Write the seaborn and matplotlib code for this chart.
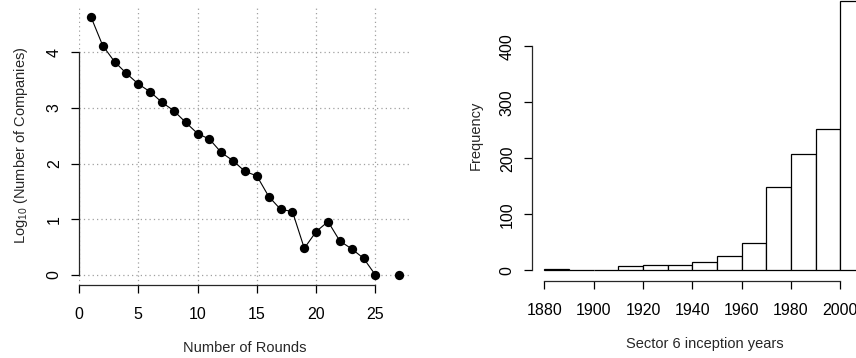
import numpy as np
import pandas as pd
import matplotlib
matplotlib.use("Agg")
import matplotlib.pyplot as plt
import seaborn as sns

sns.set_style("ticks")
plt.rcParams['font.family'] = ['Liberation Sans', 'DejaVu Sans']
plt.rcParams['mathtext.fontset'] = 'custom'
plt.rcParams['mathtext.rm'] = 'Liberation Sans'
plt.rcParams['mathtext.it'] = 'Liberation Sans:italic'
plt.rcParams['font.size'] = 10.5

# Left panel: log10 of number of companies by number of funding rounds
rounds = [1, 2, 3, 4, 5, 6, 7, 8, 9, 10, 11, 12, 13, 14, 15, 16, 17, 18, 19, 20,
          21, 22, 23, 24, 25, 27]
log_companies = [4.64, 4.12, 3.83, 3.62, 3.43, 3.29, 3.10, 2.95, 2.74, 2.54, 2.44,
                 2.20, 2.05, 1.86, 1.78, 1.41, 1.18, 1.14, 0.48, 0.78, 0.96, 0.61,
                 0.47, 0.30, 0.0, 0.0]
x_ticks_left = [0, 5, 10, 15, 20, 25]
y_ticks_left = [0, 1, 2, 3, 4]

# Right panel: histogram of inception years (10-year bins)
bin_starts = [1880, 1890, 1900, 1910, 1920, 1930, 1940, 1950, 1960, 1970, 1980, 1990, 2000]
counts = [2, 0, 1, 7, 9, 10, 15, 26, 49, 149, 207, 252, 481]
x_ticks_right = [1880, 1900, 1920, 1940, 1960, 1980, 2000]
y_ticks_right = [0, 100, 200, 300, 400]

df = pd.DataFrame({'rounds': rounds, 'logn': log_companies})
line_df = df[df['rounds'] <= 25]   # round 26 is missing, so the line stops at 25

fig = plt.figure(figsize=(8.56, 3.58), dpi=100)
W, H = 856, 358

# ---- left panel ----
ax1 = fig.add_axes([78.5 / W, (H - 285.4) / H, 333 / W, 279.4 / H])
ax1.set_xlim(-0.04, 28.04)
ax1.set_ylim(-0.186, 4.83)
ax1.set_xticks(x_ticks_left)
ax1.set_xticklabels([str(v) for v in x_ticks_left])
ax1.set_yticks(y_ticks_left)
ax1.grid(True, linestyle=(0, (1, 2.5)), color='#a0a0a0', linewidth=0.9)
sns.lineplot(data=line_df, x='rounds', y='logn', ax=ax1, color='black',
             linewidth=0.8, zorder=3)
sns.scatterplot(data=df, x='rounds', y='logn', ax=ax1, color='black', s=45,
                edgecolor='black', linewidth=0, zorder=4)
ax1.set_xlabel('Number of Rounds', labelpad=14)
ax1.set_ylabel(r'Log$_{10}$ (Number of Companies)', labelpad=12)

# ---- right panel ----
edges = bin_starts + [2010]
ax2 = fig.add_axes([531.5 / W, (H - 281.1) / H, 346.3 / W, 290.9 / H])
sns.histplot(x=bin_starts, weights=counts, bins=edges, ax=ax2, color='white',
             edgecolor='black', linewidth=0.9, alpha=1)
ax2.set_xlim(1874.8, 2015.2)
ax2.set_ylim(-19.2, 500.2)
ax2.set_xticks(x_ticks_right)
ax2.set_yticks(y_ticks_right)
ax2.set_xlabel('Sector 6 inception years', labelpad=14)
ax2.set_ylabel('Frequency', labelpad=12)

for ax, xb, yb in [(ax1, (0, 25), (0, 4)), (ax2, (1880, 2000), (0, 400))]:
    for s in ['top', 'right']:
        ax.spines[s].set_visible(False)
    ax.spines['left'].set_bounds(*yb)
    ax.spines['bottom'].set_bounds(*xb)
    ax.spines['left'].set_linewidth(0.9)
    ax.spines['bottom'].set_linewidth(0.9)
    ax.tick_params(axis='both', length=6, width=0.9, labelsize=11.5,
                   color='black', labelcolor='black')
    ax.tick_params(axis='x', pad=9.5)
    ax.tick_params(axis='y', pad=6)
    for lab in ax.get_yticklabels():
        lab.set_rotation(90)
        lab.set_va('center')
    ax.xaxis.label.set_size(10.5)
    ax.yaxis.label.set_size(10.5)

plt.savefig("out.png", dpi=100)
